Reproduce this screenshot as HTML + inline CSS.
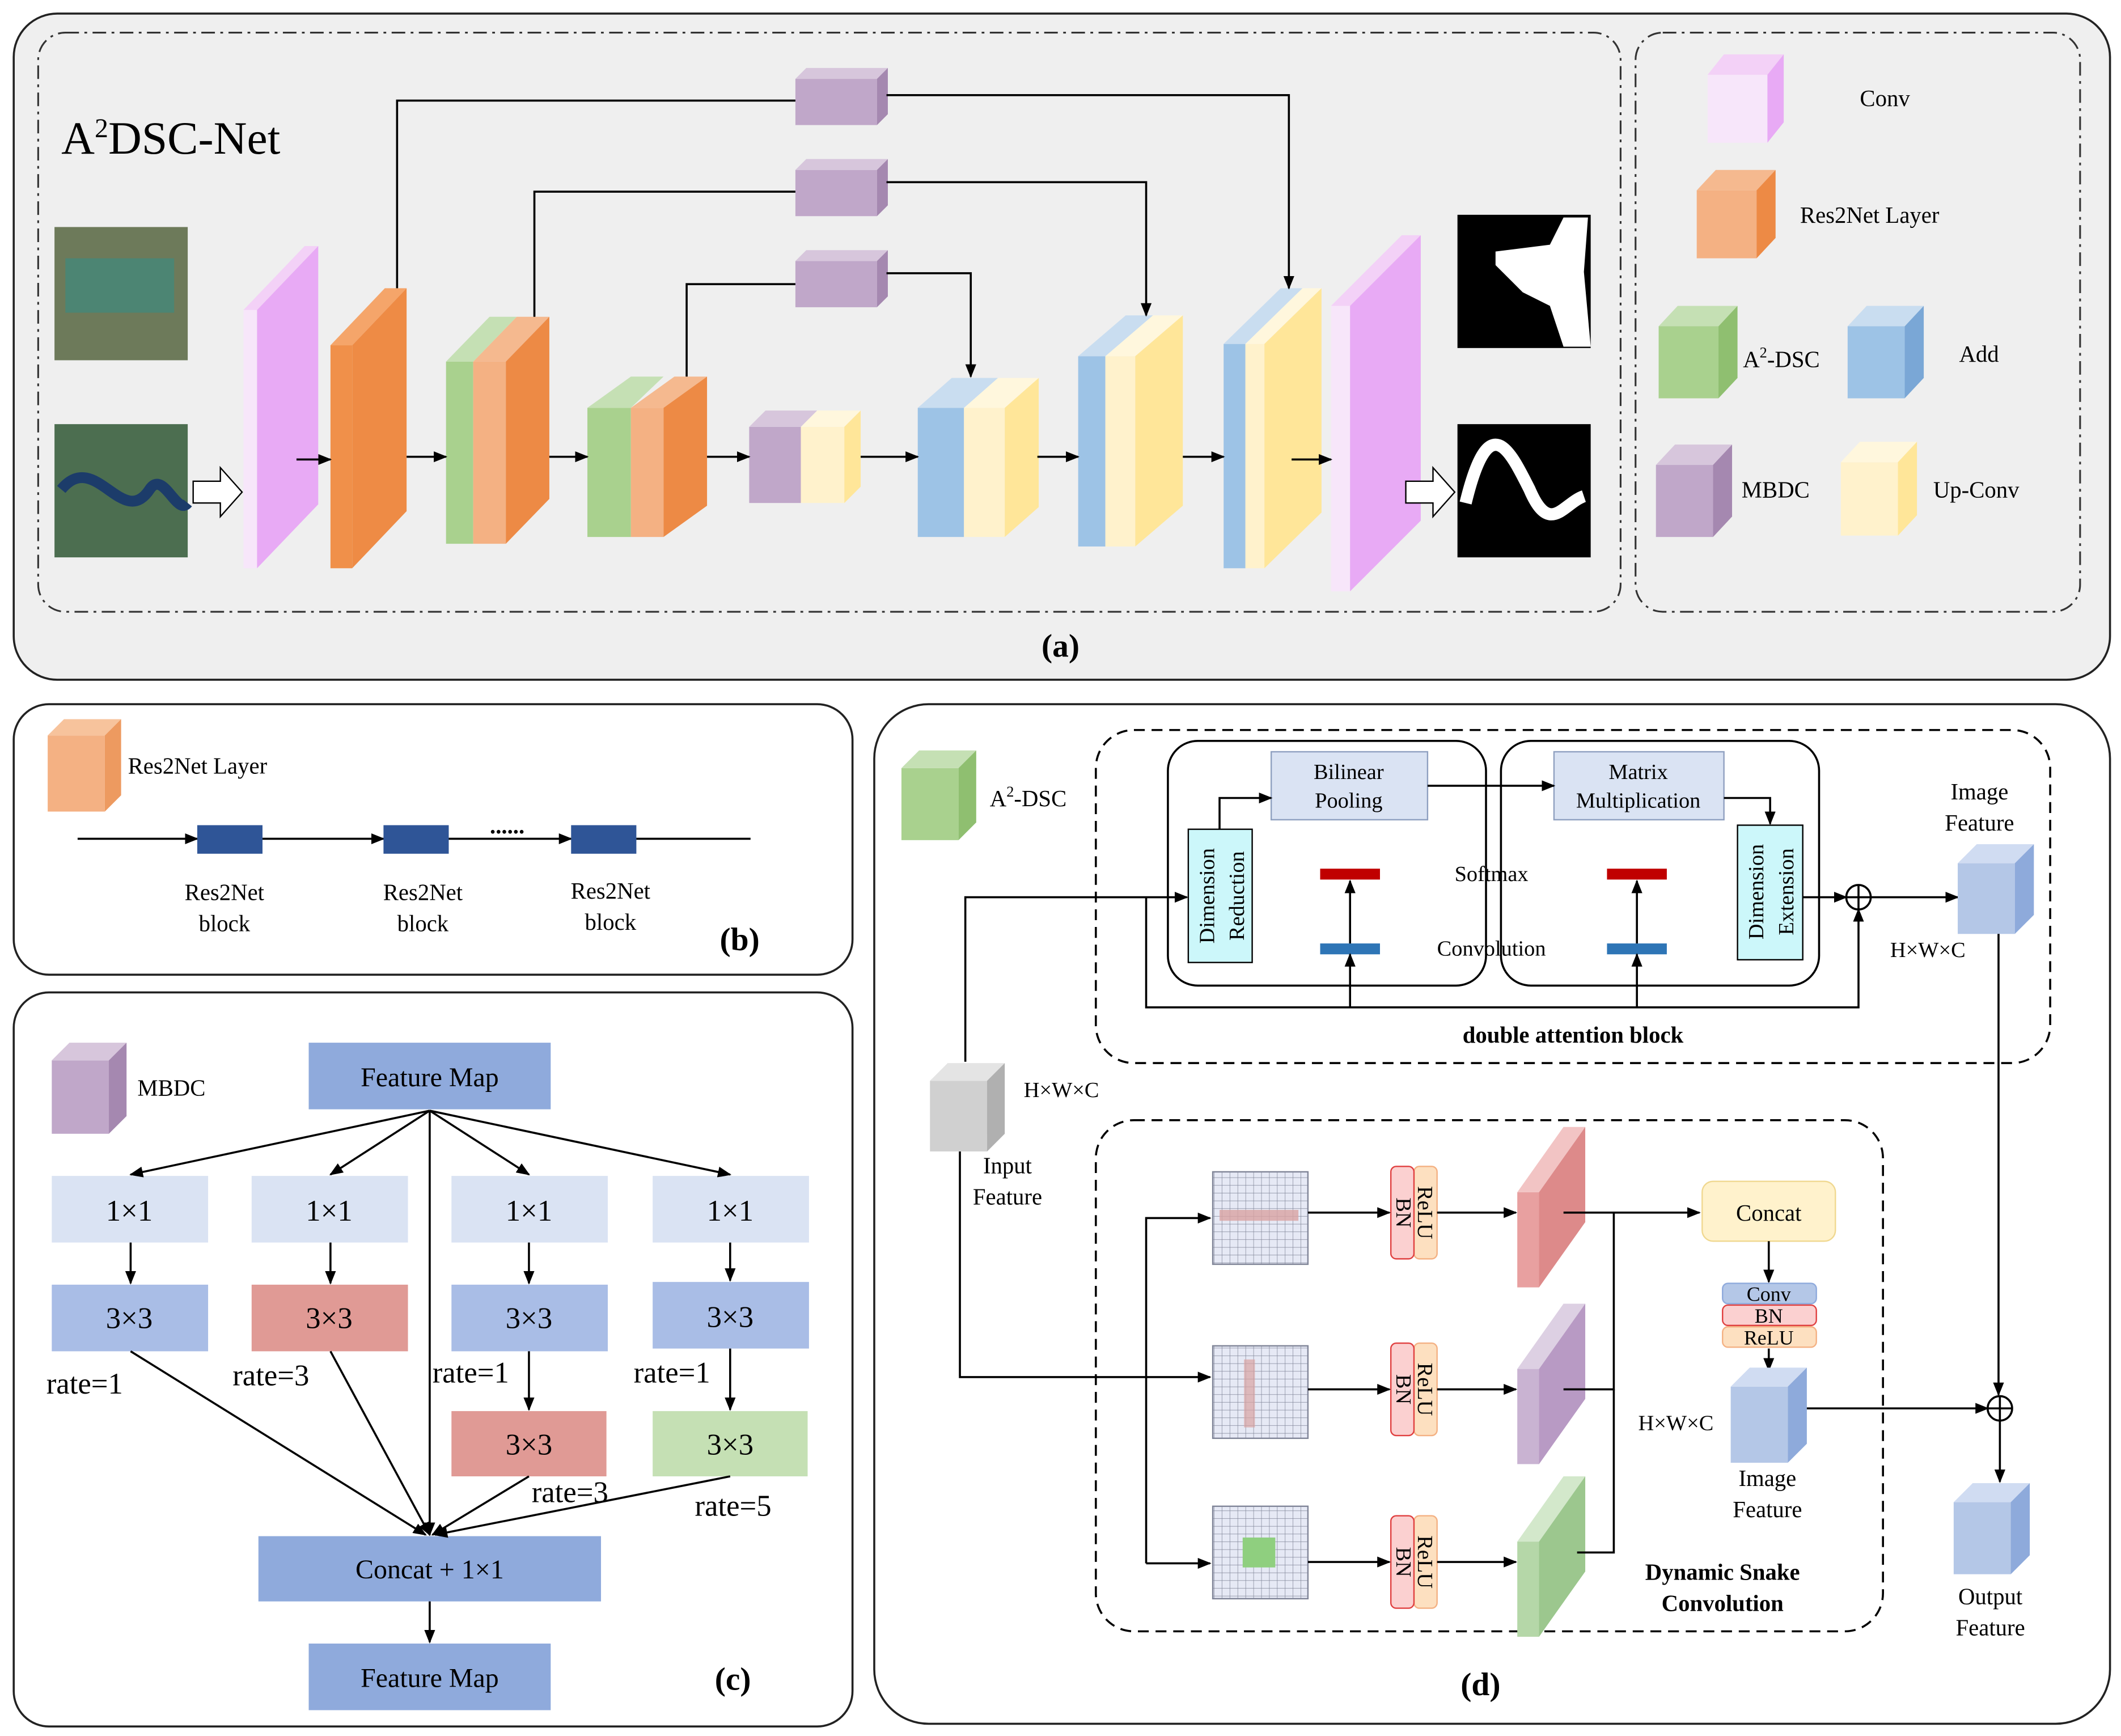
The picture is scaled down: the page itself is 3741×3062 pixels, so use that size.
<!DOCTYPE html>
<html><head><meta charset="utf-8">
<style>
html,body{margin:0;padding:0;background:#fff;}
svg{display:block;}
text{font-family:"Liberation Serif",serif;fill:#000;}
</style></head>
<body>
<svg id="s" width="3741" height="3062" viewBox="0 0 1560 1277" xmlns="http://www.w3.org/2000/svg">
<defs>
<marker id="ar" markerWidth="10" markerHeight="8" refX="9" refY="4" orient="auto" markerUnits="userSpaceOnUse"><path d="M0,0 L10,4 L0,8 z" fill="#000"/></marker>
<pattern id="grid" width="5.8" height="5.7" patternUnits="userSpaceOnUse"><rect width="5.8" height="5.7" fill="#e6e9f5"/><path d="M5.8,0V5.7H0" fill="none" stroke="#7f8497" stroke-width="0.6"/></pattern>
</defs>
<!-- panels -->
<rect x="10" y="10" width="1542" height="490" rx="32" fill="#efefef" stroke="#222" stroke-width="1.5"/>
<rect x="28" y="24" width="1164" height="426" rx="20" fill="none" stroke="#333" stroke-width="1.3" stroke-dasharray="10,4,2,4"/>
<rect x="1203" y="24" width="327" height="426" rx="20" fill="none" stroke="#333" stroke-width="1.3" stroke-dasharray="10,4,2,4"/>
<rect x="10" y="518" width="617" height="199" rx="26" fill="#fff" stroke="#222" stroke-width="1.5"/>
<rect x="10" y="730" width="617" height="540" rx="26" fill="#fff" stroke="#222" stroke-width="1.5"/>
<rect x="643" y="518" width="909" height="750" rx="40" fill="#fff" stroke="#222" stroke-width="1.5"/>
<g id="g"></g>
</svg>
<script>
var G=document.getElementById('g'),h='';
function P(pts,f){h+='<polygon points="'+pts+'" fill="'+f+'"/>';}
function R(x,y,w,hh,f,extra){h+='<rect x="'+x+'" y="'+y+'" width="'+w+'" height="'+hh+'" fill="'+f+'" '+(extra||'')+'/>';}
function cube(x,y,w,hh,dx,dy,fr,tp,sd){R(x,y,w,hh,fr);P(x+','+y+' '+(x+dx)+','+(y-dy)+' '+(x+w+dx)+','+(y-dy)+' '+(x+w)+','+y,tp);P((x+w)+','+y+' '+(x+w+dx)+','+(y-dy)+' '+(x+w+dx)+','+(y+hh-dy)+' '+(x+w)+','+(y+hh),sd);}
function T(x,y,s,t,o){h+='<text x="'+x+'" y="'+y+'" font-size="'+s+'" text-anchor="middle" '+(o||'')+'>'+t+'</text>';}
function TL(x,y,s,t,o){h+='<text x="'+x+'" y="'+y+'" font-size="'+s+'" '+(o||'')+'>'+t+'</text>';}
function L(pts,a){h+='<polyline points="'+pts+'" fill="none" stroke="#000" stroke-width="1.5" '+(a?'marker-end="url(#ar)"':'')+'/>';}
// colours
var pk=['#f3d1f7','#f7e6fa','#e5a6f0'],or=['#f0904a','#f5b07e','#e37c35'],sa='#f4b183',gr=['#a9d18e','#c5e0b4','#8fbf70'],bl=['#9dc3e6','#c9ddf0','#7aa7d6'],ye=['#ffe699','#fff2cc','#f5d77a'],pu=['#c0a7c9','#d7c6dc','#a588b0'];
// (a)
TL(45,113,34,'A<tspan dy="-12" font-size="20">2</tspan><tspan dy="12">DSC-Net</tspan>');
R(40,167,98,98,'#6d7a5a');R(48,190,80,40,'#3e8a7d','opacity="0.7"');R(40,312,98,98,'#4c6e50');
h+='<path d="M45,360 C70,330 90,390 110,360 C120,345 130,380 138,370" stroke="#1c3c6a" stroke-width="8" fill="none"/>';
h+='<path d="M142,354 h20 v-10 l16,18 l-16,18 v-10 h-20 z" fill="#fff" stroke="#000"/>';
cube(179,228,10,190,45,47,'#f7e6fa','#f3d1f7','#e8aaf5');
cube(243,254,16,164,40,42,'#f0904a','#f5a56a','#ee8b45');
cube(328,266,20,134,0,0,gr[0],gr[0],gr[0]);cube(348,266,24,134,32,33,sa,'#f5b98f','#ed8a45');P('328,266 360,233 380,233 348,266','#c5e0b4');
cube(432,300,32,95,0,0,gr[0]);cube(464,300,24,95,32,23,sa,'#f5b98f','#ed8a45');P('432,300 464,277 488,277 464,300','#c5e0b4');
cube(551,314,38,56,0,0,pu[0]);cube(589,314,32,56,12,12,ye[1],'#fff7dd',ye[0]);P('551,314 563,302 601,302 589,314','#d7c6dc');
cube(675,300,34,95,0,0,bl[0]);cube(709,300,30,95,25,22,ye[1],'#fff7dd',ye[0]);P('675,300 700,278 734,278 709,300','#c9ddf0');
cube(793,262,20,140,0,0,bl[0]);cube(813,262,22,140,35,30,ye[1],'#fff7dd',ye[0]);P('793,262 828,232 848,232 813,262','#c9ddf0');
cube(900,253,16,165,0,0,bl[0]);cube(916,253,14,165,42,41,ye[1],'#fff7dd',ye[0]);P('900,253 942,212 958,212 916,253','#c9ddf0');
cube(979,225,14,210,52,52,'#f7e6fa','#f3d1f7','#e8aaf5');
R(1072,158,98,98,'#000');h+='<path d="M1100,185 L1140,180 L1150,160 L1168,160 L1165,200 L1170,255 L1150,255 L1140,225 L1120,215 L1100,195 z" fill="#fff"/>';
R(1072,312,98,98,'#000');h+='<path d="M1078,370 C1095,300 1110,330 1125,360 C1140,395 1150,370 1165,365" stroke="#fff" stroke-width="9" fill="none"/>';
h+='<path d="M1034,354 h20 v-10 l16,18 l-16,18 v-10 h-20 z" fill="#fff" stroke="#000"/>';
L('218,338 243,338',1);L('299,336 328,336',1);L('404,336 432,336',1);L('520,336 551,336',1);L('633,336 675,336',1);L('763,336 793,336',1);L('870,336 900,336',1);L('950,338 979,338',1);
cube(585,58,60,34,8,8,pu[0],pu[1],pu[2]);cube(585,125,60,34,8,8,pu[0],pu[1],pu[2]);cube(585,192,60,34,8,8,pu[0],pu[1],pu[2]);
L('292,212 292,74 585,74');L('652,70 948,70 948,212',1);
L('393,233 393,141 585,141');L('652,134 843,134 843,232',1);
L('505,277 505,209 585,209');L('652,201 714,201 714,277',1);
T(780,483,24,'(a)','font-weight="bold"');
// legend
cube(1256,55,44,50,12,15,'#f7e6fa','#f3d1f7','#e8aaf5');TL(1368,78,17,'Conv');
cube(1248,140,44,50,14,15,sa,'#f5b98f','#ed8a45');TL(1324,164,17,'Res2Net Layer');
cube(1220,240,44,53,14,15,gr[0],gr[1],gr[2]);TL(1282,270,17,'A<tspan dy="-7" font-size="11">2</tspan><tspan dy="7">-DSC</tspan>');
cube(1359,240,42,53,14,15,bl[0],bl[1],bl[2]);TL(1441,266,17,'Add');
cube(1218,342,42,53,14,15,pu[0],pu[1],pu[2]);TL(1281,366,17,'MBDC');
cube(1354,340,42,54,14,15,ye[1],'#fff7dd',ye[0]);TL(1422,366,17,'Up-Conv');
// (b)
cube(35,541,42,56,12,12,sa,'#f7c39c','#ed9a60');TL(94,569,17,'Res2Net Layer');
L('57,617 145,617',1);R(145,607,48,21,'#2f5597');L('193,617 282,617',1);R(282,607,48,21,'#2f5597');L('330,617 420,617',1);R(420,607,48,21,'#2f5597');L('468,617 552,617');
T(373,613,17,'......','font-weight="bold"');
T(165,662,17,'Res2Net');T(165,685,17,'block');T(311,662,17,'Res2Net');T(311,685,17,'block');T(449,661,17,'Res2Net');T(449,684,17,'block');
T(544,699,24,'(b)','font-weight="bold"');
// (c)
cube(38,780,42,54,13,13,pu[0],pu[1],pu[2]);TL(101,806,17,'MBDC');
R(227,767,178,49,'#8faadc');T(316,799,20,'Feature Map');
var xs=[38,185,332,480];
for(var i=0;i<4;i++){R(xs[i],865,115,49,'#dae3f3');T(xs[i]+57,898,22,'1×1');}
R(38,945,115,49,'#a9bde6');T(95,977,22,'3×3');R(185,945,115,49,'#e09a95');T(242,977,22,'3×3');
R(332,945,115,49,'#a9bde6');T(389,977,22,'3×3');R(480,943,115,49,'#a9bde6');T(537,976,22,'3×3');
R(332,1038,114,48,'#e09a95');T(389,1070,22,'3×3');R(480,1038,114,48,'#c5e0b4');T(537,1070,22,'3×3');
R(190,1130,252,48,'#8faadc');T(316,1161,20,'Concat + 1×1');R(227,1209,178,49,'#8faadc');T(316,1241,20,'Feature Map');
L('316,817 96,864',1);L('316,817 243,864',1);L('316,817 389,864',1);L('316,817 537,864',1);L('316,817 316,1129',1);
L('96,914 96,944',1);L('243,914 243,944',1);L('389,914 389,944',1);L('537,914 537,942',1);L('389,994 389,1037',1);L('537,992 537,1037',1);
L('96,994 313,1129',1);L('243,994 316,1129',1);L('389,1086 318,1129',1);L('537,1086 320,1129',1);L('316,1178 316,1208',1);
TL(34,1025,22,'rate=1');TL(171,1019,22,'rate=3');TL(318,1017,22,'rate=1');TL(466,1017,22,'rate=1');TL(391,1105,22,'rate=3');TL(511,1115,22,'rate=5');
T(539,1243,24,'(c)','font-weight="bold"');
// (d)
cube(663,565,42,53,13,13,gr[0],gr[1],gr[2]);TL(728,593,17,'A<tspan dy="-7" font-size="11">2</tspan><tspan dy="7">-DSC</tspan>');
h+='<rect x="806" y="537" width="702" height="245" rx="28" fill="none" stroke="#000" stroke-width="1.5" stroke-dasharray="8,5"/>';
h+='<rect x="859" y="545" width="234" height="180" rx="22" fill="none" stroke="#000" stroke-width="1.5"/>';
h+='<rect x="1104" y="545" width="234" height="180" rx="22" fill="none" stroke="#000" stroke-width="1.5"/>';
R(935,553,115,50,'#dae3f3','stroke="#8fa0c0"');T(992,573,16,'Bilinear');T(992,594,16,'Pooling');
R(1143,553,125,50,'#dae3f3','stroke="#8fa0c0"');T(1205,573,16,'Matrix');T(1205,594,16,'Multiplication');
R(874,610,47,98,'#ccf7fa','stroke="#000"');h+='<text transform="translate(893,659) rotate(-90)" font-size="16" text-anchor="middle">Dimension</text><text transform="translate(915,659) rotate(-90)" font-size="16" text-anchor="middle">Reduction</text>';
R(1278,607,48,99,'#ccf7fa','stroke="#000"');h+='<text transform="translate(1297,656) rotate(-90)" font-size="16" text-anchor="middle">Dimension</text><text transform="translate(1319,656) rotate(-90)" font-size="16" text-anchor="middle">Extension</text>';
R(971,639,44,8,'#c00000');R(1182,639,44,8,'#c00000');R(971,694,44,8,'#2e75b6');R(1182,694,44,8,'#2e75b6');
T(1097,648,16,'Softmax');T(1097,703,16,'Convolution');T(1157,767,17,'double attention block','font-weight="bold"');
L('897,610 897,587 935,587',1);L('1050,578 1143,578',1);L('1268,587 1302,587 1302,606',1);
L('993,741 993,702',1);L('993,694 993,648',1);L('1204,741 1204,702',1);L('1204,694 1204,648',1);
L('843,660 843,741 1367,741 1367,669',1);L('1326,660 1358,660',1);L('1376,660 1440,660',1);
h+='<circle cx="1367" cy="660" r="9" fill="#fff" stroke="#000" stroke-width="1.5"/><path d="M1358,660h18M1367,651v18" stroke="#000" stroke-width="1.5"/>';
cube(1440,635,42,52,14,14,'#b4c7e7','#d0dcf2','#8eaadb');T(1456,588,17,'Image');T(1456,611,17,'Feature');T(1418,704,16,'H×W×C');
cube(684,795,42,52,13,13,'#d0d0d0','#e4e4e4','#b0b0b0');TL(753,807,16,'H×W×C');T(741,863,17,'Input');T(741,886,17,'Feature');
L('710,781 710,660 873,660',1);L('706,847 706,1013 890,1013',1);
h+='<rect x="806" y="824" width="579" height="376" rx="28" fill="none" stroke="#000" stroke-width="1.5" stroke-dasharray="8,5"/>';
var gy=[862,990,1108];
for(var i=0;i<3;i++){R(892,gy[i],70,68,'url(#grid)','stroke="#7f8497"');}
R(897,890,58,8,'#d9a3a3','opacity="0.8"');R(915,1000,8,50,'#d9a3a3','opacity="0.7"');R(914,1131,24,22,'#8fcf7f');
L('843,1150 843,896 890,896',1);L('843,1150 890,1150',1);
var sy=[858,988,1115];
for(var i=0;i<3;i++){h+='<rect x="1040" y="'+sy[i]+'" width="17" height="68" rx="4" fill="#fde0c0" stroke="#f4b183"/><rect x="1023" y="'+sy[i]+'" width="17" height="68" rx="4" fill="#fbd0d0" stroke="#e04040"/>';
h+='<text transform="translate(1027,'+(sy[i]+34)+') rotate(90)" font-size="16" text-anchor="middle">BN</text><text transform="translate(1043,'+(sy[i]+34)+') rotate(90)" font-size="16" text-anchor="middle">ReLU</text>';
L('962,'+(sy[i]+34)+' 1022,'+(sy[i]+34),1);L('1057,'+(sy[i]+34)+' 1115,'+(sy[i]+34),1);}
cube(1116,877,16,70,34,48,'#e8a0a0','#f2c4c4','#dd8a8a');cube(1116,1007,16,70,34,48,'#c9b3d2','#ddd0e3','#b89ac4');cube(1116,1134,16,70,34,48,'#b5d7a8','#d3e8cb','#9cc78e');
L('1150,892 1250,892',1);L('1150,1022 1187,1022 1187,892');L('1160,1142 1187,1142 1187,1022');
h+='<rect x="1252" y="869" width="98" height="44" rx="8" fill="#fff2cc" stroke="#f0d890"/>';T(1301,898,17,'Concat');
L('1301,913 1301,943',1);
h+='<rect x="1267" y="944" width="69" height="15" rx="4" fill="#b4c7e7" stroke="#8faadc"/><rect x="1267" y="960" width="69" height="15" rx="4" fill="#fbd0d0" stroke="#e04040"/><rect x="1267" y="976" width="69" height="15" rx="4" fill="#fde0c0" stroke="#f4b183"/>';
T(1301,957,15,'Conv');T(1301,973,15,'BN');T(1301,989,15,'ReLU');L('1301,992 1301,1008',1);
cube(1273,1020,42,56,14,14,'#b4c7e7','#d0dcf2','#8eaadb');TL(1205,1052,16,'H×W×C');T(1300,1093,17,'Image');T(1300,1116,17,'Feature');
L('1329,1036 1462,1036',1);L('1470,687 1470,1026',1);
h+='<circle cx="1471" cy="1036" r="9" fill="#fff" stroke="#000" stroke-width="1.5"/><path d="M1462,1036h18M1471,1027v18" stroke="#000" stroke-width="1.5"/>';
L('1471,1045 1471,1090',1);
cube(1437,1105,42,53,14,14,'#b4c7e7','#d0dcf2','#8eaadb');T(1464,1180,17,'Output');T(1464,1203,17,'Feature');
T(1267,1162,17,'Dynamic Snake','font-weight="bold"');T(1267,1185,17,'Convolution','font-weight="bold"');
T(1089,1247,24,'(d)','font-weight="bold"');
G.innerHTML=h;
</script>
</body></html>
